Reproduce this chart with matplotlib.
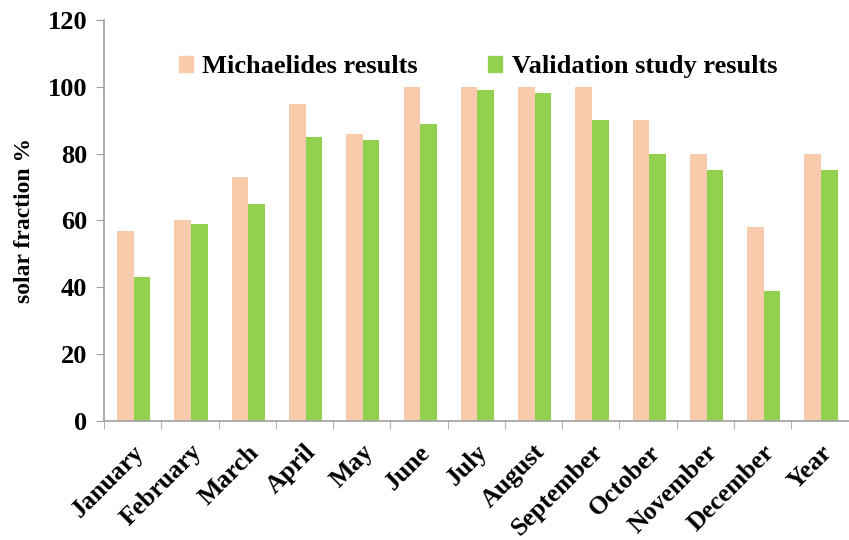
import numpy as np
import matplotlib.pyplot as plt
from matplotlib.patches import Patch

months = ["January", "February", "March", "April", "May", "June", "July",
          "August", "September", "October", "November", "December", "Year"]
michaelides = [57, 60, 73, 95, 86, 100, 100, 100, 100, 90, 80, 58, 80]
validation = [43, 59, 65, 85, 84, 89, 99, 98, 90, 80, 75, 39, 75]

plt.rcParams['font.family'] = ['Liberation Serif', 'DejaVu Serif']
plt.rcParams['font.weight'] = 'bold'

fig = plt.figure(figsize=(8.49, 5.40), dpi=100)
ax = fig.add_axes([0.1225, 0.2204, 0.877, 0.7426])

x = np.arange(len(months))
w = 0.29
ax.bar(x + 0.02 - w / 2, michaelides, w, color='#F8CBAD', label='Michaelides results')
ax.bar(x + 0.02 + w / 2, validation, w, color='#92D050', label='Validation study results')

ax.set_xlim(-0.5, len(months) - 0.5)
ax.set_ylim(0, 120)
ax.set_yticks(range(0, 121, 20))
ax.set_xticks(x)
ax.set_xticklabels(months, rotation=45, ha='right', rotation_mode='anchor',
                   fontsize=18.5, fontweight='bold')
ax.set_xticks(np.arange(-0.5, len(months), 1), minor=True)
ax.tick_params(axis='x', which='major', length=0, pad=14)
ax.tick_params(axis='x', which='minor', length=6, color='#A0A0A0', direction='out')
ax.tick_params(axis='y', length=6, color='#A0A0A0', labelsize=19, pad=6)
for lab in ax.get_yticklabels():
    lab.set_fontweight('bold')

for s in ['top', 'right']:
    ax.spines[s].set_visible(False)
for s in ['left', 'bottom']:
    ax.spines[s].set_color('#A0A0A0')
    ax.spines[s].set_linewidth(1.2)

ax.set_ylabel('solar fraction %', fontsize=17, fontweight='bold', labelpad=9)

handles = [Patch(color='#F8CBAD'), Patch(color='#92D050')]
ax.legend(handles, ['Michaelides results', 'Validation study results'],
          ncol=2, frameon=False, loc='center', bbox_to_anchor=(0.502, 0.883),
          prop={'weight': 'bold', 'size': 19},
          handlelength=0.55, handleheight=0.55, handletextpad=0.35, columnspacing=2.65)

plt.savefig('out.png', dpi=100)
